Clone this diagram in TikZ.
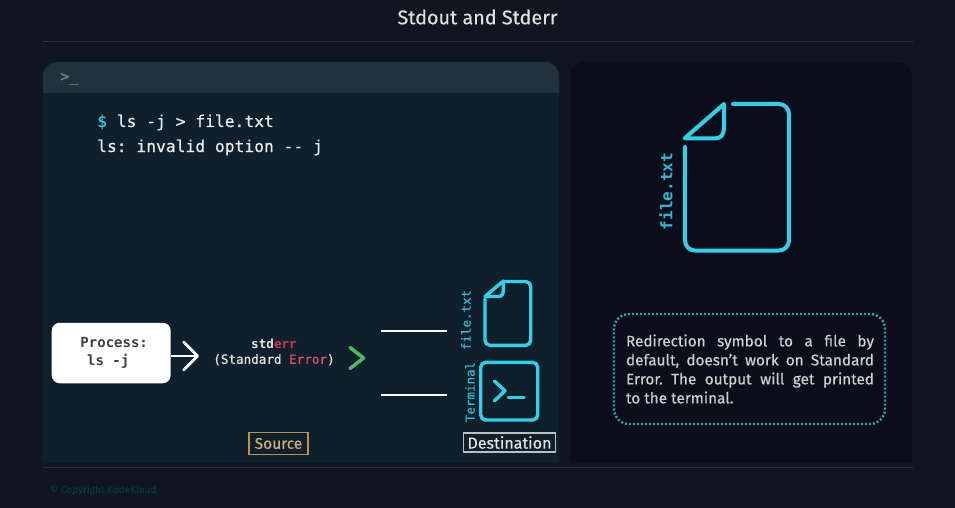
\documentclass[tikz,border=0pt]{standalone}
\usepackage{fontspec}
\setmainfont[FakeBold=0.25]{Fira Sans}
\setmonofont[FakeBold=0.45]{DejaVu Sans Mono}
\newfontfamily\heavymono{DejaVu Sans Mono Bold}
\usetikzlibrary{arrows.meta}
\definecolor{pagebg}{HTML}{0F1622}
\definecolor{termbg}{HTML}{0F1F2B}
\definecolor{termhead}{HTML}{22323D}
\definecolor{notebg}{HTML}{0B0E1A}
\definecolor{rulecol}{HTML}{2A323D}
\definecolor{iconcyan}{HTML}{30D0E8}
\definecolor{errred}{HTML}{D5335C}
\definecolor{okgreen}{HTML}{4CBB5E}
\definecolor{srcgold}{HTML}{B8964A}
\definecolor{dotteal}{HTML}{2FA5A8}
\tikzset{
    monotext/.style={font=\ttfamily\fontsize{#1}{#1}\selectfont, inner sep=0pt},
    heavytext/.style={font=\heavymono\fontsize{#1}{#1}\selectfont, inner sep=0pt},
    icon/.style={iconcyan, line width=#1, line cap=round, line join=round},
    whiteline/.style={white, line width=2pt},
}
\begin{document}
\begin{tikzpicture}[x=1pt, y=-1pt]
    \useasboundingbox (0,0) rectangle (955,508);
    \fill[pagebg] (0,0) rectangle (955,508);
    \fill[notebg] (570,463) [rounded corners=14] -- (570,62) -- (912,62) [sharp corners] -- (912,463) -- cycle;
    \fill[termbg] (43,463) [rounded corners=14] -- (43,62) -- (559,62) [sharp corners] -- (559,463) -- cycle;
    \fill[termhead] (43,93) [rounded corners=14] -- (43,62) -- (559,62) [sharp corners] -- (559,93) -- cycle;
    \node[font=\fontsize{19.8}{19.8}\selectfont, text=white!88!black, inner sep=0pt] (title) at (477.5,17) {Stdout and Stderr};
    \coordinate (rule1a) at (43,42);
    \coordinate (rule1b) at (913,42);
    \coordinate (rule2a) at (43,467);
    \coordinate (rule2b) at (913,467);
    \path (rule1a) edge[rulecol, line width=1pt] (rule1b);
    \path (rule2a) edge[rulecol, line width=1pt] (rule2b);
    \node[monotext=15, text=white!40!termhead, anchor=west] (prompt) at (60,79) {>\_};
    \node[monotext=16.3, text=white!92!black, anchor=base west] (cmd) at (97,127) {\textcolor{iconcyan}{\$} ls -j > file.txt};
    \node[monotext=16.3, text=white!92!black, anchor=base west] (err) at (97,152) {ls: invalid option -- j};
    % flow
    \node[fill=white, rounded corners=8, minimum width=119pt, minimum height=60.5pt, inner sep=0pt, align=center, font=\heavymono\fontsize{14}{18}\selectfont, text=black!75] (proc) at (111.2,353) {\hspace*{6pt}Process:\\\hspace*{-6pt}ls -j};
    \coordinate (tip) at (199,356);
    \draw[white, line width=2.5pt, -{Straight Barb[length=14pt, width=28pt, line width=2.8pt, round]}] (proc.east |- tip) -- (tip);
    \node[monotext=12.6, text=white!90!black, align=center] (stderr) at (274,352) {{\heavymono std\textcolor{errred}{err}}\\[3pt](Standard \textcolor{errred!85!white}{Error})};
    \coordinate (chevA) at (350,347.5);
    \coordinate (chevB) at (363.5,358);
    \coordinate (chevC) at (350,368.5);
    \draw[okgreen, line width=3.5pt, line cap=round, line join=round] (chevA) -- (chevB) -- (chevC);
    \coordinate (lineA1) at (381,330.5);
    \coordinate (lineA2) at (447,330.5);
    \coordinate (lineB1) at (381,394.5);
    \coordinate (lineB2) at (447,394.5);
    \path (lineA1) edge[whiteline] (lineA2);
    \path (lineB1) edge[whiteline] (lineB2);
    % small icons
    \draw[icon=3.4pt, rounded corners=5] (504,281.5) -- (530.7,281.5) -- (530.7,345.3) -- (485,345.3) -- (485,299);
    \draw[icon=3.4pt] (485,296.5) -- (503.3,281) -- (503.3,290) .. controls (503.3,294.5) and (502,296.5) .. (498,296.5) -- cycle;
    \draw[icon=3.4pt, rounded corners=5] (480.7,362.3) rectangle (537.7,420);
    \draw[icon=3.4pt] (494.3,381) -- (505,390.7) -- (494.3,401);
    \draw[icon=3.4pt] (508.3,397.3) -- (524,397.3);
    \node[monotext=12.5, text=iconcyan!90!black, rotate=90] (filelbl) at (466,320) {file.txt};
    \node[monotext=12.5, text=iconcyan!90!black, rotate=90] (termlbl) at (470,392) {Terminal};
    \node[draw=srcgold, line width=1.6pt, text=srcgold!75!white, font=\fontsize{15.5}{15.5}\selectfont, minimum width=59pt, minimum height=22pt, inner sep=0pt] (source) at (278.5,443.5) {Source};
    \node[draw=white!75!black, line width=1.6pt, text=white!90!black, font=\fontsize{16}{16}\selectfont, minimum width=92pt, minimum height=19pt, inner sep=0pt] (dest) at (509.5,442.5) {Destination};
    % big icon
    \draw[icon=4pt, rounded corners=10] (733,104) -- (789,104) -- (789,250.5) -- (685,250.5) -- (685,147);
    \draw[icon=4pt] (684.7,138.3) -- (724,104) -- (724,127) .. controls (724,134) and (722,138.3) .. (715,138.3) -- cycle;
    \node[heavytext=16, text=iconcyan!90!black, rotate=90] (biglbl) at (666,191.5) {file.txt};
    % note
    \node[draw=dotteal, line width=2.4pt, dash pattern=on 2pt off 2pt, rounded corners=15, minimum width=271pt, minimum height=110pt, inner sep=0pt] (notebox) at (749.5,369) {};
    \node[text width=248pt, inner sep=0pt, align=justify, text=white!82!black, font=\fontsize{15.3}{19}\selectfont] (note) at (750,369) {\frenchspacing Redirection symbol to a file by\linebreak default, doesn’t work on Standard\linebreak Error. The output will get printed\linebreak to the terminal.};
    \node[anchor=west, inner sep=0pt, text=teal!32!pagebg, font=\fontsize{10}{10}\selectfont] (copy) at (50,490) {© Copyright KodeKloud};
\end{tikzpicture}
\end{document}
